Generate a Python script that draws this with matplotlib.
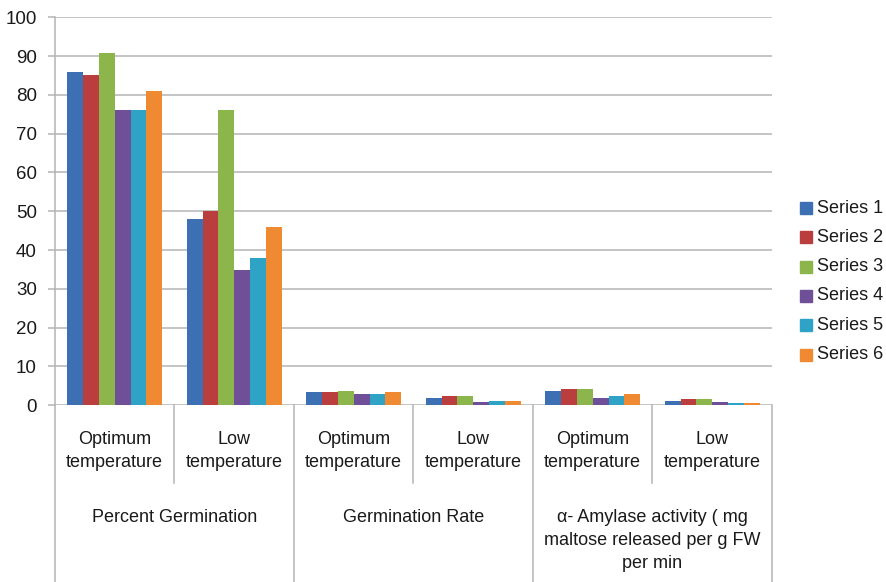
import matplotlib
matplotlib.use("Agg")
import matplotlib.pyplot as plt
import matplotlib.transforms as mtransforms
from matplotlib.lines import Line2D
import numpy as np

plt.rcParams['font.family'] = ['Liberation Sans', 'DejaVu Sans']

# Category structure
groups = ["Percent Germination", "Germination Rate",
          "\u03b1- Amylase activity ( mg\nmaltose released per g FW\nper min"]
subcategories = ["Optimum\ntemperature", "Low\ntemperature"] * 3
series_names = ["Series 1", "Series 2", "Series 3", "Series 4", "Series 5", "Series 6"]

# Values per sub-category (Percent opt/low, Rate opt/low, Amylase opt/low)
series1 = [86, 48, 3.4, 1.9, 3.8, 1.1]
series2 = [85, 50, 3.4, 2.3, 4.3, 1.5]
series3 = [90.7, 76, 3.8, 2.3, 4.2, 1.5]
series4 = [76, 35, 3.0, 0.8, 1.8, 0.8]
series5 = [76, 38, 2.9, 1.1, 2.4, 0.7]
series6 = [81, 46, 3.3, 1.1, 3.0, 0.7]
all_series = [series1, series2, series3, series4, series5, series6]

colors = ["#3d6fb3", "#bb3e3e", "#8cb54c", "#6e4f98", "#2fa3c6", "#ef8a33"]

W, H = 886, 582
fig = plt.figure(figsize=(W / 100, H / 100), dpi=100)

left_px, right_px, top_px, base_px = 55, 772, 17.3, 405.3
ax = fig.add_axes([left_px / W, 1 - base_px / H,
                   (right_px - left_px) / W, (base_px - top_px) / H])

n_sub = len(subcategories)
bar_w = 0.1325
x_centers = np.arange(n_sub) + 0.5
for k, (vals, col, name) in enumerate(zip(all_series, colors, series_names)):
    ax.bar(x_centers + (k - 2.5) * bar_w, vals, width=bar_w, color=col,
           label=name, zorder=3, linewidth=0)

grid_col = "#b4b4b4"
ax.set_xlim(0, n_sub)
ax.set_ylim(0, 100)
ax.set_yticks(np.arange(0, 101, 10))
ax.yaxis.grid(True, color=grid_col, linewidth=1.1, zorder=0)
ax.set_axisbelow(True)
ax.set_xticks([])
for s in ["top", "right", "bottom"]:
    ax.spines[s].set_visible(False)
ax.spines["left"].set_color(grid_col)
ax.spines["left"].set_linewidth(1.1)
ax.tick_params(axis="y", length=5, width=1.1, color=grid_col,
               labelsize=13.5, pad=8, labelcolor="#1a1a1a")

# Multi-level category axis below the plot
btf = mtransforms.blended_transform_factory(ax.transData, fig.transFigure)

def fy(py):
    return 1 - py / H

for i in range(n_sub + 1):
    bottom = 582 if i % 2 == 0 else 483
    fig.add_artist(Line2D([i, i], [fy(base_px), fy(bottom)], transform=btf,
                          color=grid_col, linewidth=1.1))

for i, lab in enumerate(subcategories):
    fig.text(i + 0.5, fy(451), lab, transform=btf, ha="center", va="center",
             fontsize=13, linespacing=1.5, color="#1a1a1a")

for g, lab in enumerate(groups):
    fig.text(2 * g + 1, fy(509), lab, transform=btf, ha="center", va="top",
             fontsize=13, linespacing=1.45, color="#1a1a1a")

# Legend
leg_x, leg_y0, leg_dy = 800, 208, 29.3
for k, (col, name) in enumerate(zip(colors, series_names)):
    yy = leg_y0 + k * leg_dy
    fig.patches.append(plt.Rectangle((leg_x / W, fy(yy + 6)), 12 / W, 12 / H,
                                     transform=fig.transFigure, color=col))
    fig.text((leg_x + 17) / W, fy(yy), name, ha="left", va="center",
             fontsize=13, color="#1a1a1a")

fig.savefig("out.png", dpi=100, facecolor="white")
